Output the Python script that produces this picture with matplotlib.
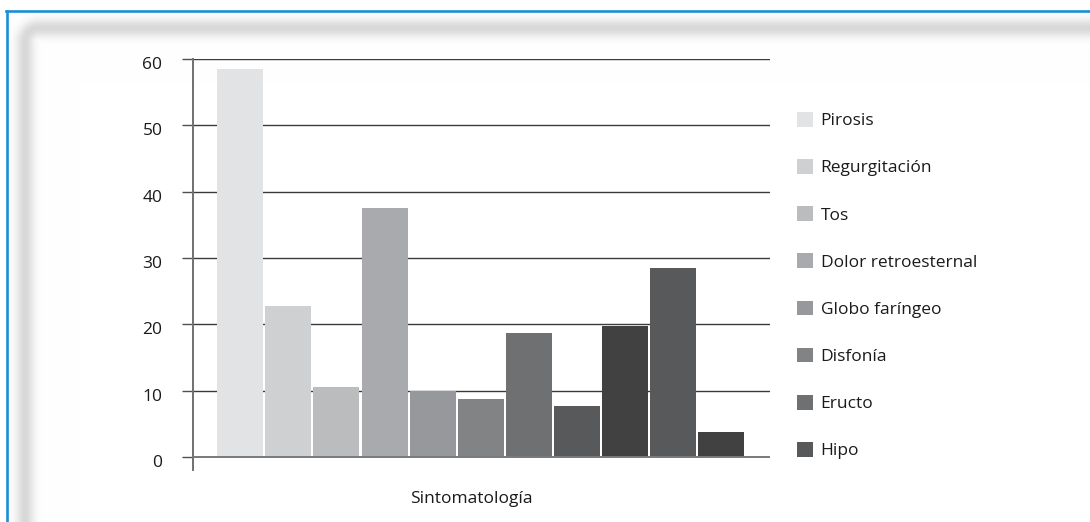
import numpy as np
import matplotlib
matplotlib.use("Agg")
import matplotlib.pyplot as plt
import matplotlib.transforms as mtransforms
from matplotlib.patches import Patch
from matplotlib.lines import Line2D

# ---------------- data ----------------
categories = ["Pirosis", "Regurgitación", "Tos", "Dolor retroesternal",
              "Globo faríngeo", "Disfonía", "Eructo", "Hipo"]
bar_values = [58.5, 22.7, 10.6, 37.6, 9.9, 8.8, 18.7, 7.7, 19.8, 28.5, 3.8]
bar_colors = ['#e2e3e5', '#cfd0d2', '#bbbcbe', '#a9aaad', '#97989b', '#828385',
              '#6f7072', '#58595b', '#414142', '#58595b', '#414142']
legend_colors = ['#e2e3e5', '#cfd0d2', '#bbbcbe', '#a9aaad', '#97989b', '#828385',
                 '#6f7072', '#58595b']
yticks = [0, 10, 20, 30, 40, 50, 60]
xlabel = "Sintomatología"

FONT = ["Open Sans", "DejaVu Sans"]
plt.rcParams['font.family'] = FONT
FS = 12.5

W, H, DPI = 1090, 522, 100
fig = plt.figure(figsize=(W / DPI, H / DPI), dpi=DPI)
fig.patch.set_facecolor('white')

# ---------------- decorative background (shadow frame + blue border) -------------
bg = fig.add_axes([0, 0, 1, 1], zorder=-10)
bg.set_xlim(0, W)
bg.set_ylim(H, 0)
bg.axis('off')
xx, yy = np.meshgrid(np.arange(W) + 0.5, np.arange(H) + 0.5)
x0, y0, r = 25.0, 28.0, 14.0
dx = x0 + r - xx
dy = y0 + r - yy
inside_corner = (dx > 0) & (dy > 0)
d_corner = np.abs(np.hypot(dx, dy) - r)
d_edges = np.minimum(np.abs(xx - x0), np.abs(yy - y0))
d = np.where(inside_corner, d_corner, d_edges)
shade = 0.15 * np.exp(-(d / 9.0) ** 2)
shade[(xx < 7) | (yy < 10)] = 0
img = np.dstack([1 - shade] * 3)
bg.imshow(img, extent=(0, W, H, 0), interpolation='bilinear', aspect='auto')
bg.add_line(Line2D([6, W], [10.5, 10.5], color='#1b8fd6', lw=1.9))
bg.add_line(Line2D([7, 7], [10.5, H], color='#1b8fd6', lw=1.9))

# ---------------- main chart ----------------
ax_left, ax_right = 193, 770
ax_top, ax_bot = 59, 470
ax = fig.add_axes([ax_left / W, (H - ax_bot) / H, (ax_right - ax_left) / W, (ax_bot - ax_top) / H])
ax.set_facecolor('none')
ax.set_ylim(-1.96, 60)
ax.set_xlim(-0.98, 11.01)

x = np.arange(len(bar_values))
ax.bar(x, bar_values, width=0.955, color=bar_colors, zorder=2)

for t in yticks[1:]:
    ax.axhline(t, color='#3a3a3a', lw=1.0, zorder=1)
ax.axhline(0, color='#7a7a7a', lw=1.4, zorder=3)

ax.set_yticks(yticks)
ax.set_yticklabels([str(t) for t in yticks])
ax.set_xticks([])
for s in ['top', 'right', 'bottom']:
    ax.spines[s].set_visible(False)
ax.spines['left'].set_color('#707070')
ax.spines['left'].set_linewidth(1.4)
ax.tick_params(axis='y', direction='out', length=8, width=1.0, color='#505050',
               pad=14, labelsize=FS, labelcolor='#1a1a1a')
shift = mtransforms.ScaledTranslation(0, -3 / 72, fig.dpi_scale_trans)
for lab in ax.get_yticklabels():
    lab.set_transform(lab.get_transform() + shift)

fig.text(471 / W, 1 - 499 / H, xlabel, ha='center', va='center', fontsize=FS,
         color='#1a1a1a')

handles = [Patch(facecolor=c, edgecolor='none') for c in legend_colors]
leg = fig.legend(handles, categories, loc='upper left',
                 bbox_to_anchor=(797 / W, 1 - 112 / H),
                 frameon=False, fontsize=FS, handlelength=0.92, handleheight=0.92,
                 handletextpad=0.44, labelspacing=1.72, borderaxespad=0,
                 borderpad=0)
for t in leg.get_texts():
    t.set_color('#1a1a1a')

fig.savefig('out.png', dpi=DPI)
